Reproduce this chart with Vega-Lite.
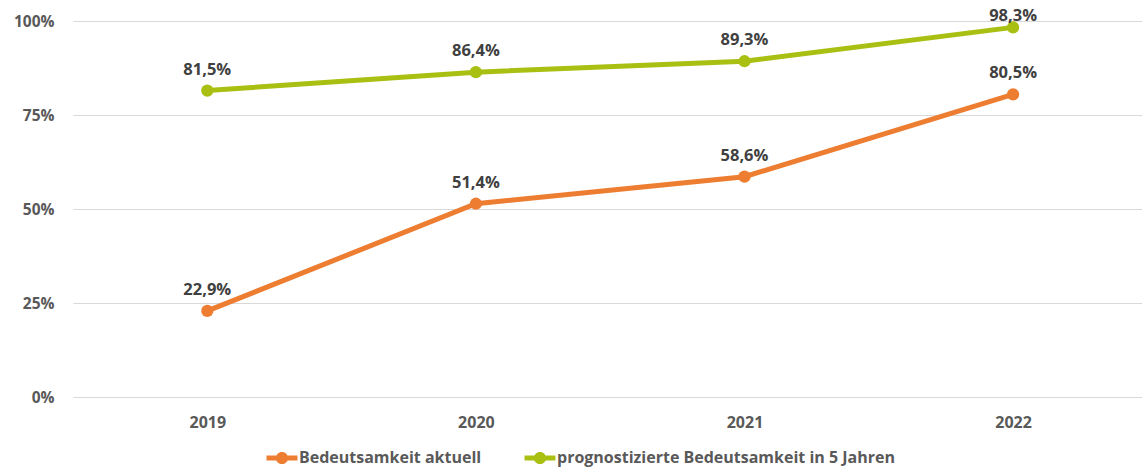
{
  "$schema": "https://vega.github.io/schema/vega-lite/v6.json",
  "width": 1069,
  "height": 376,
  "autosize": {"type": "none"},
  "padding": {"left": 73, "top": 21, "right": 0, "bottom": 73},
  "background": "white",
  "config": {
    "locale": {"number": {"decimal": ",", "thousands": ".", "grouping": [3], "currency": ["", " €"]}},
    "view": {"stroke": null},
    "font": "Open Sans"
  },
  "data": {
    "values": [
      {"year": 2019, "series": "Bedeutsamkeit aktuell", "share": 0.229},
      {"year": 2020, "series": "Bedeutsamkeit aktuell", "share": 0.514},
      {"year": 2021, "series": "Bedeutsamkeit aktuell", "share": 0.586},
      {"year": 2022, "series": "Bedeutsamkeit aktuell", "share": 0.805},
      {"year": 2019, "series": "prognostizierte Bedeutsamkeit in 5 Jahren", "share": 0.815},
      {"year": 2020, "series": "prognostizierte Bedeutsamkeit in 5 Jahren", "share": 0.864},
      {"year": 2021, "series": "prognostizierte Bedeutsamkeit in 5 Jahren", "share": 0.893},
      {"year": 2022, "series": "prognostizierte Bedeutsamkeit in 5 Jahren", "share": 0.983}
    ]
  },
  "encoding": {
    "x": {
      "field": "year",
      "type": "quantitative",
      "scale": {"domain": [2018.5, 2022.48], "nice": false, "zero": false},
      "axis": {
        "values": [2019, 2020, 2021, 2022],
        "format": "d",
        "title": null,
        "grid": false,
        "domain": false,
        "ticks": false,
        "labelPadding": 17,
        "labelFont": "Open Sans",
        "labelFontSize": 16,
        "labelFontWeight": "bold",
        "labelColor": "#595959"
      }
    },
    "y": {
      "field": "share",
      "type": "quantitative",
      "scale": {"domain": [0, 1], "nice": false},
      "axis": {
        "values": [0, 0.25, 0.5, 0.75, 1],
        "format": ".0%",
        "title": null,
        "domain": false,
        "ticks": false,
        "grid": true,
        "gridColor": "#d9d9d9",
        "gridWidth": 1,
        "labelPadding": 19,
        "labelFont": "Open Sans",
        "labelFontSize": 15.5,
        "labelFontWeight": "bold",
        "labelColor": "#595959"
      }
    },
    "color": {
      "field": "series",
      "type": "nominal",
      "scale": {
        "domain": ["Bedeutsamkeit aktuell", "prognostizierte Bedeutsamkeit in 5 Jahren"],
        "range": ["#ED7D31", "#A9BF12"]
      },
      "legend": {
        "title": null,
        "orient": "none",
        "direction": "horizontal",
        "legendX": 200,
        "legendY": 428,
        "columnPadding": 42,
        "labelOffset": 8,
        "labelLimit": 500,
        "labelFont": "Open Sans",
        "labelFontSize": 16,
        "labelFontWeight": "bold",
        "labelColor": "#595959",
        "symbolType": "M-1.72,-0.28 L-0.3,-0.28 L-0.3,0.28 L-1.72,0.28 Z M0.3,-0.28 L1.72,-0.28 L1.72,0.28 L0.3,0.28 Z M-0.68,0 A0.68,0.68 0 1,1 0.68,0 A0.68,0.68 0 1,1 -0.68,0 Z",
        "symbolSize": 324,
        "symbolStrokeWidth": 0,
        "encode": {
          "symbols": {
            "update": {
              "fill": {"scale": "color", "field": "value"},
              "fillOpacity": {"value": 1},
              "strokeWidth": {"value": 0}
            }
          }
        }
      }
    }
  },
  "layer": [
    {
      "mark": {"type": "line", "strokeWidth": 5, "strokeCap": "round"}
    },
    {
      "mark": {"type": "point", "filled": true, "size": 150, "opacity": 1}
    },
    {
      "transform": [{"filter": "datum.share <= 0.95"}],
      "mark": {
        "type": "text",
        "dy": -21,
        "font": "Open Sans",
        "fontSize": 16.5,
        "fontWeight": "bold",
        "color": "#404040"
      },
      "encoding": {
        "text": {"field": "share", "type": "quantitative", "format": ".1%"},
        "color": {"value": "#404040"}
      }
    },
    {
      "transform": [{"filter": "datum.share > 0.95"}],
      "mark": {
        "type": "text",
        "dy": -11,
        "font": "Open Sans",
        "fontSize": 16.5,
        "fontWeight": "bold",
        "color": "#404040"
      },
      "encoding": {
        "text": {"field": "share", "type": "quantitative", "format": ".1%"},
        "color": {"value": "#404040"}
      }
    }
  ]
}
